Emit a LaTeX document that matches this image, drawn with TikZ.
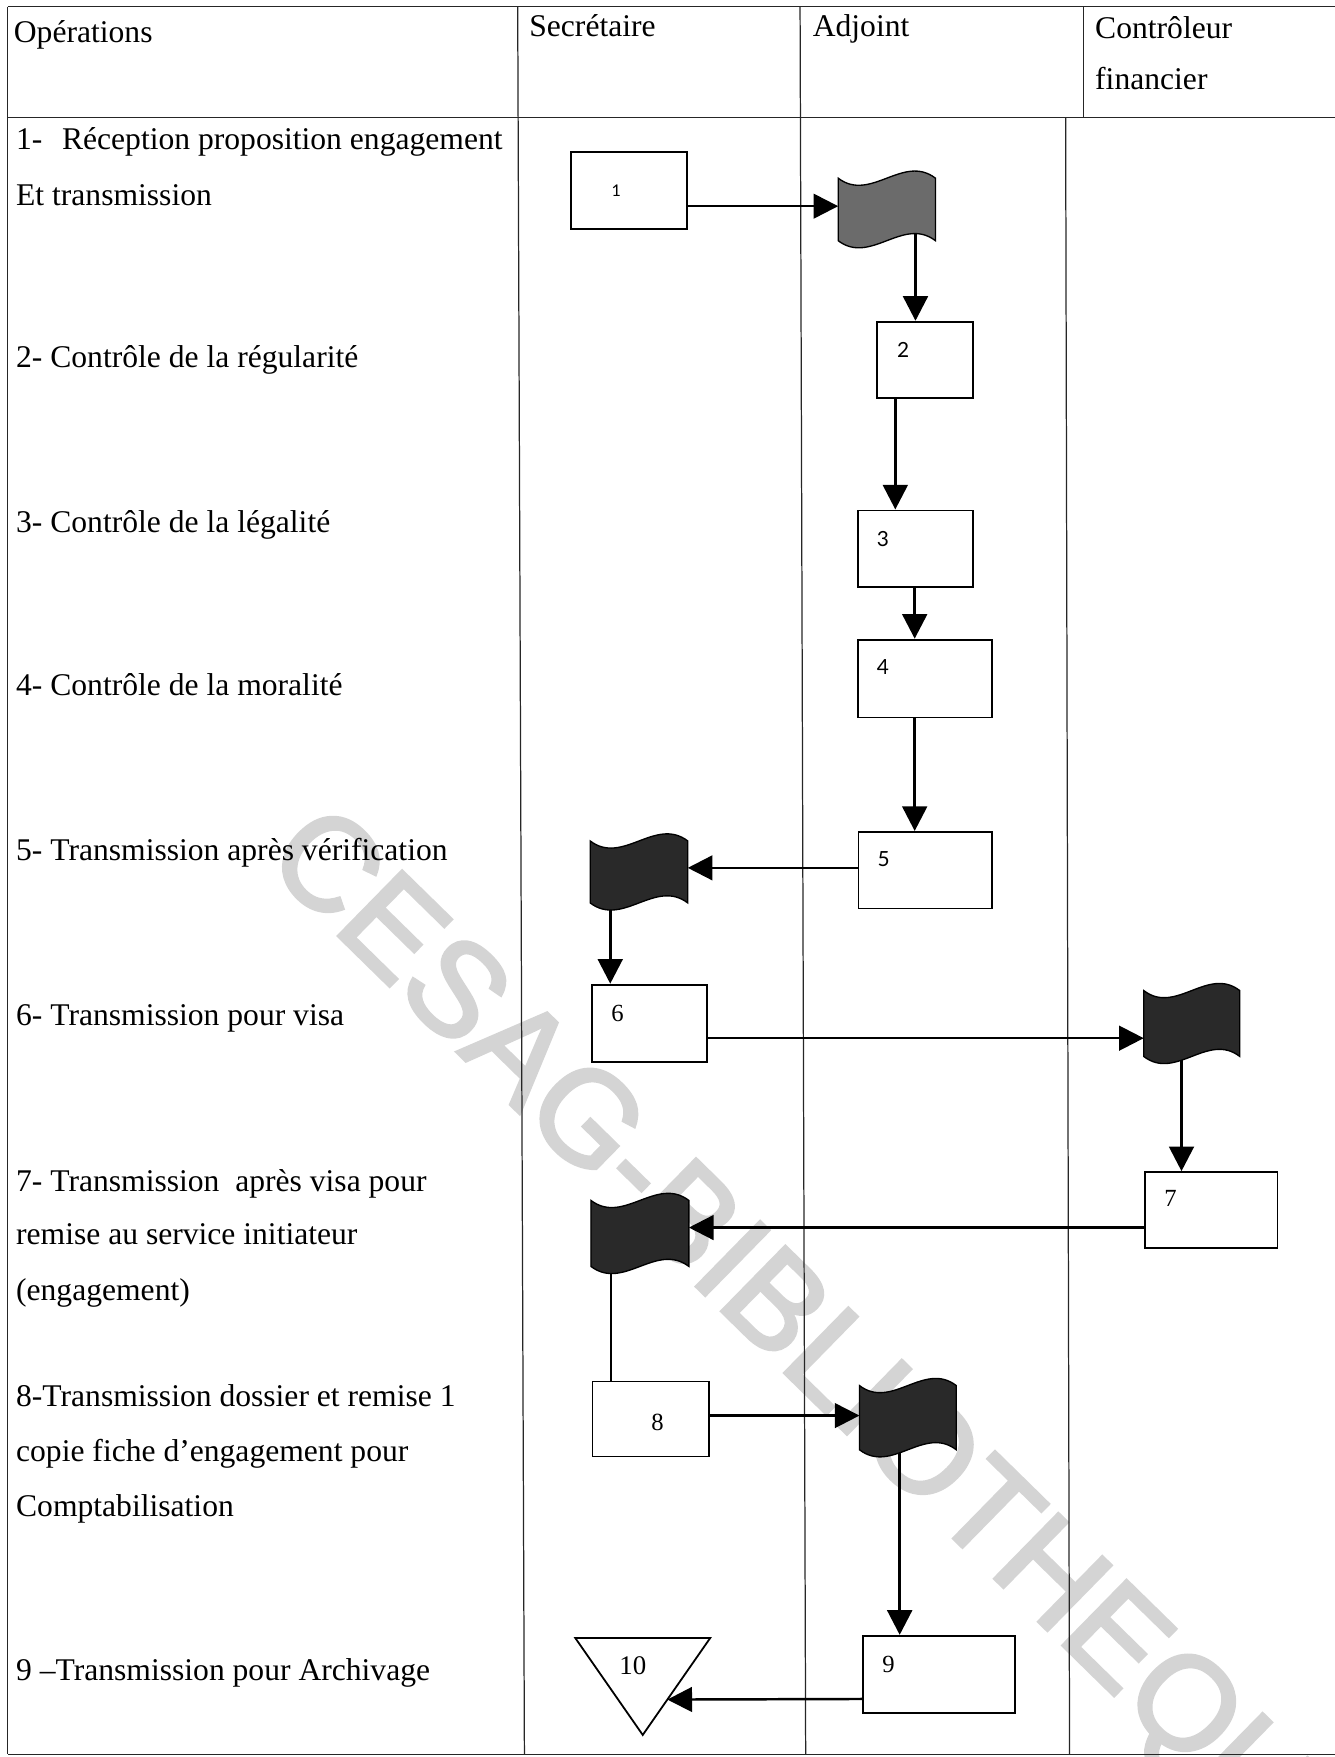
\documentclass[tikz,border=0pt]{standalone}
\usepackage{fontspec}
\setmainfont{Liberation Serif}[Ligatures={TeX,NoCommon}]
\newfontfamily\numsans{Lato}
\newfontfamily\wmsans{Liberation Sans}[FakeBold=2.5]
\usetikzlibrary{arrows.meta,calc}

% punched-tape document symbol drawn over an invisible rectangle node
\newcommand\tapeshape[2]{%
  \draw[line width=0.6pt, fill=#2] (#1.north west)
    .. controls ($(#1.north west)!0.3333!(#1.north east)+(0,22)$)
            and ($(#1.north west)!0.6667!(#1.north east)+(0,-22)$) .. (#1.north east)
    -- (#1.south east)
    .. controls ($(#1.south west)!0.6667!(#1.south east)+(0,-22)$)
            and ($(#1.south west)!0.3333!(#1.south east)+(0,22)$) .. (#1.south west)
    -- cycle;}

\begin{document}
\begin{tikzpicture}[x=0.5pt,y=-0.5pt,
  rule/.style={line width=0.55pt, black!85},
  optxt/.style={anchor=base west, inner sep=0pt, font=\fontsize{14.1pt}{17pt}\selectfont},
  stepbox/.style={draw, line width=0.8pt, fill=white, inner sep=0pt, anchor=north west},
  tapenode/.style={inner sep=0pt, anchor=north west},
  numa/.style={inner sep=0pt, font=\numsans\fontsize{9.3pt}{10pt}\selectfont},
  numb/.style={inner sep=0pt, font=\fontsize{11pt}{12pt}\selectfont},
  harr/.style={-{Triangle[length=11pt,width=11pt]}, line width=1.1pt},
  varr/.style={-{Triangle[length=11pt,width=11pt]}, line width=1.4pt},
  plainlink/.style={line width=1.2pt}
]
\useasboundingbox (0,0) rectangle (1191,1568);

% watermark
\begin{scope}
\clip (0,0) rectangle (1191,1568);
\node[font=\wmsans\fontsize{59pt}{59pt}\selectfont, text=black!17, rotate=-44.4,
      anchor=base, inner sep=0pt] (wmark) at (707.4,1232.3) {CESAG-BIBLIOTHEQUE};
\end{scope}

% table frame
\draw[rule] (7,6) -- (1195,6);
\draw[rule] (7,105) -- (1195,105);
\draw[rule] (7,1565.5) -- (1195,1565.5);
\draw[rule] (7,6) -- (7,1565.5);
\draw[rule] (462,6) -- (468,1565.5);
\draw[rule] (714,6) -- (719,1565.5);
\draw[rule] (967,6) -- (967,105);
\draw[rule] (951,105) -- (954.5,1565.5);

% column headings
\node[optxt] (hop)  at (12,38)  {Opérations};
\node[optxt] (hsec) at (472,33) {Secrétaire};
\node[optxt] (hadj) at (725,33) {Adjoint};
\node[optxt] (hcf1) at (977,34) {Contrôleur};
\node[optxt] (hcf2) at (977,80) {financier};

% operations
\node[optxt] (o1a) at (14,133)  {1-\hspace{8.75pt}Réception proposition engagement};
\node[optxt] (o1b) at (14,183)  {Et transmission};
\node[optxt] (o2)  at (14,328)  {2- Contrôle de la régularité};
\node[optxt] (o3)  at (14,475)  {3- Contrôle de la légalité};
\node[optxt] (o4)  at (14,621)  {4- Contrôle de la moralité};
\node[optxt] (o5)  at (14,768)  {5- Transmission après vérification};
\node[optxt] (o6)  at (14,915)  {6- Transmission pour visa};
\node[optxt] (o7a) at (14,1063) {7- Transmission\ \ après visa pour};
\node[optxt] (o7b) at (14,1111) {remise au service initiateur};
\node[optxt] (o7c) at (14,1161) {(engagement)};
\node[optxt] (o8a) at (14,1255) {8-Transmission dossier et remise 1};
\node[optxt] (o8b) at (14,1304) {copie fiche d’engagement pour};
\node[optxt] (o8c) at (14,1353) {Comptabilisation};
\node[optxt] (o9)  at (14,1500) {9 –Transmission pour Archivage};

% process boxes
\node[stepbox, minimum width=51.5pt,  minimum height=34.4pt]  (b1) at (509,134.5)   {};
\node[stepbox, minimum width=42.75pt, minimum height=34.2pt]  (b2) at (782,286.3)   {};
\node[stepbox, minimum width=51.25pt, minimum height=34.25pt] (b3) at (765,454.7)   {};
\node[stepbox, minimum width=59.75pt, minimum height=34.75pt] (b4) at (765,570)     {};
\node[stepbox, minimum width=59.55pt, minimum height=34.2pt]  (b5) at (765.4,741.6) {};
\node[stepbox, minimum width=51.5pt,  minimum height=34.55pt] (b6) at (527.3,877.9) {};
\node[stepbox, minimum width=59.25pt, minimum height=33.9pt]  (b7) at (1020.7,1045.2) {};
\node[stepbox, minimum width=52pt,    minimum height=33.5pt]  (b8) at (528,1232)    {};
\node[stepbox, minimum width=68pt,    minimum height=34.3pt]  (b9) at (769.3,1459)  {};

% archive triangle and document symbols (outline frames)
\node[tapenode, minimum width=59.8pt, minimum height=42.85pt] (t10) at (513.4,1461.8) {};
\node[tapenode, minimum width=43pt,    minimum height=27.5pt]  (fA) at (748,159)     {};
\node[tapenode, minimum width=43.15pt, minimum height=27.25pt] (fB) at (526.7,750.5) {};
\node[tapenode, minimum width=42.45pt, minimum height=29pt]    (fC) at (1020.7,884)  {};
\node[tapenode, minimum width=43.3pt,  minimum height=29.05pt] (fD) at (527.4,1071.3) {};
\node[tapenode, minimum width=42.8pt,  minimum height=28.25pt] (fE) at (767,1236.5)  {};

% flow lanes
\coordinate (yA)  at (0,184);
\coordinate (xA)  at (817,0);
\coordinate (x23) at (799,0);
\coordinate (x34) at (816.3,0);
\coordinate (y5B) at (0,774.5);
\coordinate (xB6) at (544.6,0);
\coordinate (y6C) at (0,926.5);
\coordinate (xC7) at (1054.4,0);
\coordinate (y7D) at (0,1095.5);
\coordinate (xD8) at (545.2,0);
\coordinate (y8E) at (0,1263.3);
\coordinate (xE9) at (802.9,0);
\coordinate (y9T) at (0,1516.2);

% connectors
\draw[harr] (b1.east |- yA) -- (fA.west |- yA);
\draw[varr] (fA.center -| xA) -- (b2.north -| xA);
\draw[varr] (b2.south -| x23) -- (b3.north -| x23);
\draw[varr] (b3.south -| x34) -- (b4.north -| x34);
\draw[varr] (b4.south -| x34) -- (b5.north -| x34);
\draw[harr] (b5.west |- y5B) -- (fB.east |- y5B);
\draw[varr] (fB.center -| xB6) -- (b6.north -| xB6);
\draw[harr] (b6.east |- y6C) -- (fC.west |- y6C);
\draw[varr] (fC.center -| xC7) -- (b7.north -| xC7);
\draw[harr] (b7.west |- y7D) -- (fD.east |- y7D);
\draw[plainlink] (fD.center -| xD8) -- (b8.north -| xD8);
\draw[harr] (b8.east |- y8E) -- (fE.west |- y8E);
\draw[varr] (fE.center -| xE9) -- (b9.north -| xE9);
\draw[harr] (b9.west |- y9T) -- ($(t10.north east)!0.635!(t10.south)$);

% document symbols
\tapeshape{fA}{black!58}
\tapeshape{fB}{black!84}
\tapeshape{fC}{black!84}
\tapeshape{fD}{black!84}
\tapeshape{fE}{black!84}

% archive symbol
\draw[line width=0.8pt, fill=white] (t10.north west) -- (t10.north east) -- (t10.south) -- cycle;

% step numbers
\node[numa, font=\numsans\fontsize{7.2pt}{8pt}\selectfont] (n1) at (550,170) {1};
\node[numa] (n2) at (805.9,311.9) {2};
\node[numa] (n3) at (788,480.6) {3};
\node[numa] (n4) at (788,595) {4};
\node[numa] (n5) at (788.6,766.3) {5};
\node[numb] (n6) at (551.1,904.1) {6};
\node[numb] (n7) at (1044.6,1069.8) {7};
\node[numb] (n8) at (586.7,1269) {8};
\node[numb] (n9) at (793,1485) {9};
\node[numb, font=\fontsize{12pt}{13pt}\selectfont] (n10) at (564.8,1486.5) {10};
\end{tikzpicture}
\end{document}
